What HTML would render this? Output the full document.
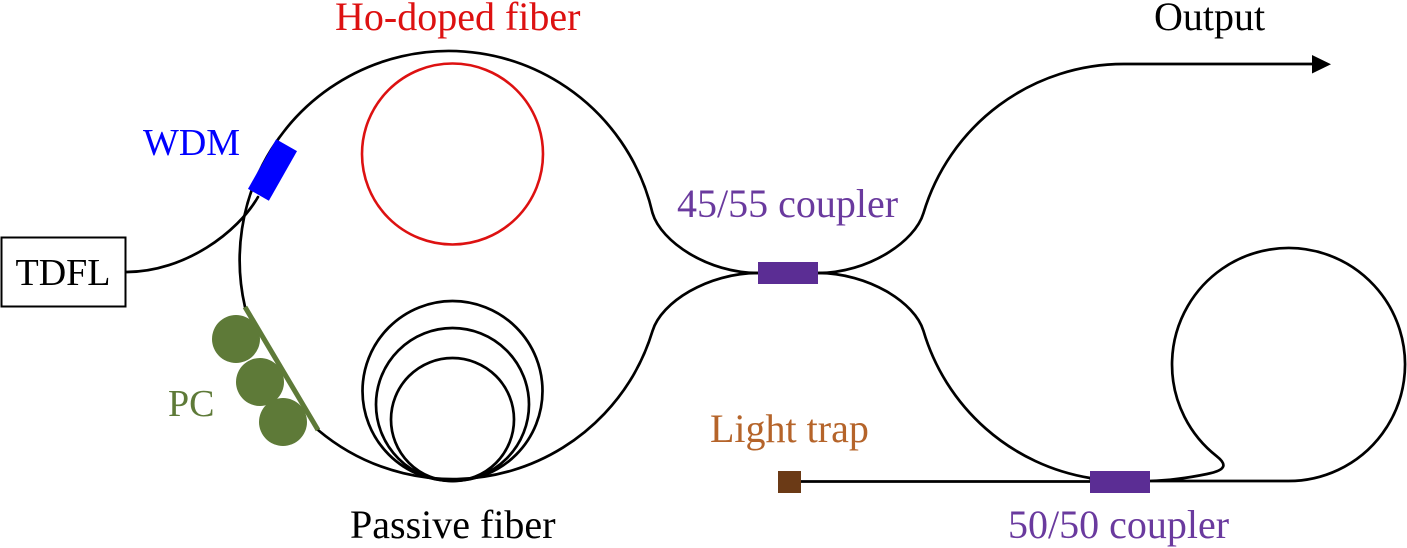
<!DOCTYPE html>
<html>
<head>
<meta charset="utf-8">
<style>
  html,body{margin:0;padding:0;background:#fff;}
  svg{display:block;}
  text{font-family:"Liberation Serif","Times New Roman",serif;}
</style>
</head>
<body>
<svg width="1407" height="548" viewBox="0 0 1407 548" xmlns="http://www.w3.org/2000/svg">
  <rect x="0" y="0" width="1407" height="548" fill="#fff"/>

  <g font-family="'Liberation Serif', 'Times New Roman', serif">
  <!-- Labels -->
  <text x="335" y="30" font-size="40" fill="#dd1111">Ho-doped fiber</text>
  <text x="1154" y="30" font-size="40" fill="#000">Output</text>
  <text x="143" y="155" font-size="38" fill="#0000ff">WDM</text>
  <text x="677" y="217" font-size="40" fill="#6a3a9e">45/55 coupler</text>
  <text x="168" y="416" font-size="38" fill="#5e7a38">PC</text>
  <text x="710" y="442" font-size="40" fill="#b5642a">Light trap</text>
  <text x="350" y="538" font-size="40" fill="#000">Passive fiber</text>
  <text x="1008" y="538" font-size="40" fill="#6a3a9e">50/50 coupler</text>
  </g>

  <!-- TDFL box -->
  <rect x="1.5" y="237.5" width="124" height="69" fill="#fff" stroke="#000" stroke-width="2"/>
  <text x="63" y="285" font-size="38" fill="#000" text-anchor="middle" font-family="'Liberation Serif', 'Times New Roman', serif">TDFL</text>

  <g fill="none" stroke="#000" stroke-width="2.7" stroke-linecap="round">
    <!-- TDFL to WDM -->
    <path d="M126 272 C185 272 238 232 258 197"/>
    <!-- main loop upper -->
    <path d="M758 273 C708 273 661 241.8 652.5 213 A209 209 0 0 0 245 307"/>
    <!-- main loop lower -->
    <path d="M318 430 A209 209 0 0 0 652.5 331 C661 302.2 708 273 758 273"/>
    <!-- output -->
    <path d="M818 273 C868 273 915 241.8 923.5 213 A209 209 0 0 1 1124 64 L1316 64"/>
    <!-- lower right to 50/50 coupler -->
    <path d="M818 273 C868 273 915 302.2 923.5 331 A209 209 0 0 0 1090 478 L1092 481"/>
    <!-- light trap fiber -->
    <path d="M800 481.5 L1092 481.5"/>
    <!-- right loop -->
    <path d="M1150 481 L1288.5 481 A116.5 116.5 0 1 0 1216.8 456.3 C1226 463.5 1228 470 1207 474 C1190 477.5 1170 480.5 1150 481"/>
    <!-- passive fiber coils -->
    <circle cx="452.5" cy="391" r="90"/>
    <circle cx="452.5" cy="404.5" r="76.5"/>
    <circle cx="452.5" cy="419.5" r="61.5"/>
  </g>

  <!-- Ho-doped fiber -->
  <circle cx="452.5" cy="154" r="90.5" fill="none" stroke="#dd1111" stroke-width="2.6"/>

  <!-- arrowhead -->
  <polygon points="1312,55 1331,64.3 1312,73.5" fill="#000"/>

  <!-- WDM -->
  <rect x="-12" y="-28.5" width="24" height="57" fill="#0000ff" transform="translate(272.5,170) rotate(29.6)"/>

  <!-- PC -->
  <line x1="245" y1="307" x2="318" y2="430" stroke="#5e7a38" stroke-width="5"/>
  <circle cx="236" cy="339" r="24" fill="#5e7a38"/>
  <circle cx="260" cy="382" r="24" fill="#5e7a38"/>
  <circle cx="283" cy="422" r="24" fill="#5e7a38"/>

  <!-- couplers -->
  <rect x="758" y="262" width="60" height="22" fill="#5b2d94"/>
  <rect x="1090" y="471" width="60" height="22" fill="#5b2d94"/>

  <!-- light trap -->
  <rect x="778" y="471" width="23" height="22" fill="#6b3a16"/>
</svg>
</body>
</html>
